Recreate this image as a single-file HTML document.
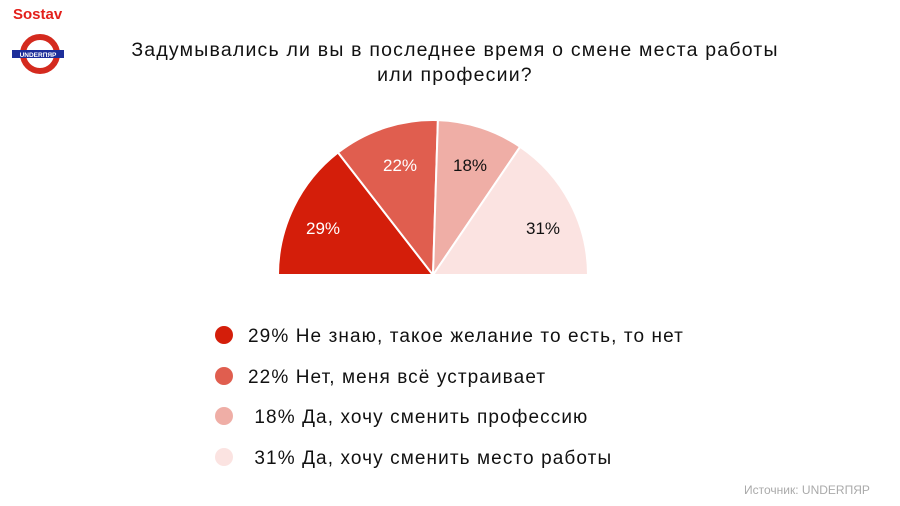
<!DOCTYPE html>
<html><head><meta charset="utf-8"><style>
body{margin:0;width:900px;height:506px;background:#fff;overflow:hidden;position:relative;font-family:"Liberation Sans",sans-serif;color:#111}
.t{position:absolute;left:60px;width:790px;text-align:center;top:38px;font-size:19.5px;line-height:25px;font-weight:500;letter-spacing:1.2px}
.lg{position:absolute;left:215px;font-size:19px;line-height:22px;letter-spacing:1.1px}
.lg span{display:inline-block;width:18px;height:18px;border-radius:50%;vertical-align:-2px;margin-right:15px}
</style></head><body>
<div style="position:absolute;left:13px;top:6px;color:#e3201b;font-weight:bold;font-size:15px">Sostav</div>
<svg style="position:absolute;left:0;top:0" width="140" height="80">
<circle cx="40" cy="54" r="17" fill="none" stroke="#d42a1e" stroke-width="6"/>
<rect x="12" y="50" width="52" height="8" fill="#1d2e9a"/>
<text x="38" y="57" font-size="6.5" fill="#fff" text-anchor="middle" font-weight="bold" font-family="Liberation Sans">UNDERПЯР</text>
</svg>
<div class="t">Задумывались ли вы в последнее время о смене места работы<br>или професии?</div>
<svg style="position:absolute;left:0;top:0" width="900" height="300">
<g stroke="#fff" stroke-width="2">
<path d="M433 275 L278 275 A155 155 0 0 1 338 152.5 Z" fill="#d41e0a"/>
<path d="M433 275 L338 152.5 A155 155 0 0 1 437.9 120.1 Z" fill="#e05e4f"/>
<path d="M433 275 L437.9 120.1 A155 155 0 0 1 520.1 146.8 Z" fill="#efaea6"/>
<path d="M433 275 L520.1 146.8 A155 155 0 0 1 588 275 Z" fill="#fbe3e1"/>
</g>
<g font-size="17" font-family="Liberation Sans" text-anchor="middle">
<text x="323" y="234" fill="#fff">29%</text>
<text x="400" y="171" fill="#fff">22%</text>
<text x="470" y="171" fill="#111">18%</text>
<text x="543" y="234" fill="#111">31%</text>
</g>
</svg>
<div class="lg" style="top:326px"><span style="background:#d41e0a"></span>29% Не знаю, такое желание то есть, то нет</div>
<div class="lg" style="top:367px"><span style="background:#e05e4f"></span>22% Нет, меня всё устраивает</div>
<div class="lg" style="top:407px"><span style="background:#efaea6"></span> 18% Да, хочу сменить профессию</div>
<div class="lg" style="top:448px"><span style="background:#fbe3e1"></span> 31% Да, хочу сменить место работы</div>
<div style="position:absolute;left:744px;top:483px;font-size:12px;color:#aaa">Источник: UNDERПЯР</div>
</body></html>
